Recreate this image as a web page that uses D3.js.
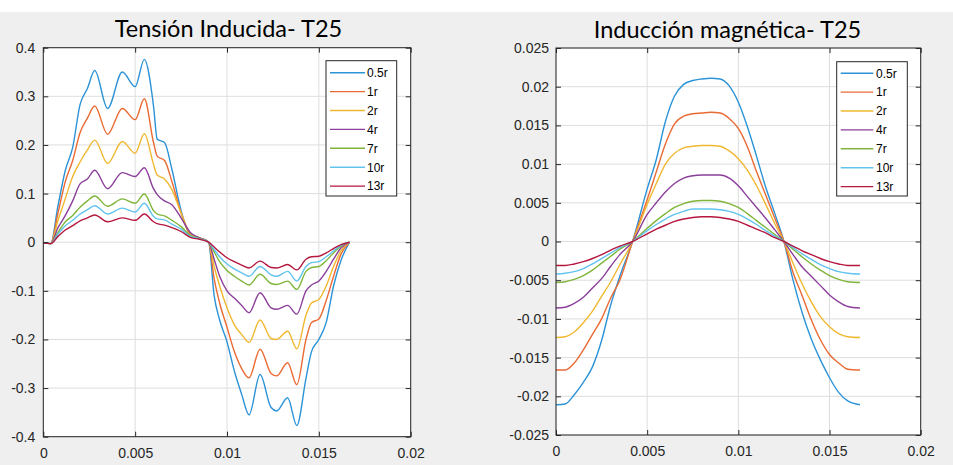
<!DOCTYPE html>
<html><head><meta charset="utf-8">
<script src="https://cdn.jsdelivr.net/npm/d3@7"></script>
<style>
body{margin:0;background:#ffffff;}
svg{display:block;}
.tick text{font-family:"Liberation Sans",Arial,sans-serif;font-size:14px;fill:#262626;}
</style></head><body>
<svg id="c" width="953" height="465"></svg>
<script>
// ---------- data ----------
const seriesNames = ["0.5r","1r","2r","4r","7r","10r","13r"];
const seriesColors = ["#2b93d6","#ea6a33","#f0b830","#8b3f9a","#7fb53a","#62c3ef","#b5173f"];
const xTicks = [0,0.005,0.01,0.015,0.02];
const xTickLabels = ["0","0.005","0.01","0.015","0.02"];
const vTicks = [-0.4,-0.3,-0.2,-0.1,0,0.1,0.2,0.3,0.4];
const vTickLabels = ["-0.4","-0.3","-0.2","-0.1","0","0.1","0.2","0.3","0.4"];
const bTicks = [-0.025,-0.02,-0.015,-0.01,-0.005,0,0.005,0.01,0.015,0.02,0.025];
const bTickLabels = ["-0.025","-0.02","-0.015","-0.01","-0.005","0","0.005","0.01","0.015","0.02","0.025"];

// Tensión inducida (left)
const vTime = [0,0.0004,0.0008,0.0012,0.0016,0.0020,0.0024,0.0028,0.0035,0.0043,0.0050,0.0055,0.0060,0.0062,0.0066,0.0070,0.0075,0.0080,0.0085,0.0090,
  0.0093,0.0096,0.0100,0.0104,0.0108,0.0112,0.0118,0.0124,0.0127,0.0133,0.0138,0.0143,0.0146,0.0150,0.0154,0.0158,0.0162,0.01667];
const v05r = [-0.002,-0.003,0.075,0.148,0.195,0.283,0.316,0.353,0.275,0.35,0.32,0.376,0.28,0.212,0.205,0.15,0.065,0.016,0.009,0,
  -0.11,-0.16,-0.205,-0.265,-0.313,-0.355,-0.272,-0.34,-0.347,-0.32,-0.377,-0.28,-0.225,-0.2,-0.165,-0.09,-0.038,0];
const v1r = [-0.002,-0.003,0.06,0.125,0.168,0.225,0.255,0.28,0.222,0.275,0.252,0.295,0.205,0.177,0.168,0.125,0.06,0.016,0.009,0,
  -0.075,-0.125,-0.175,-0.225,-0.26,-0.279,-0.22,-0.27,-0.275,-0.248,-0.293,-0.2,-0.165,-0.158,-0.12,-0.07,-0.025,0];
const v2r = [-0.002,-0.003,0.045,0.09,0.135,0.165,0.19,0.21,0.162,0.207,0.183,0.223,0.16,0.138,0.13,0.108,0.06,0.018,0.009,0,
  -0.05,-0.09,-0.135,-0.17,-0.19,-0.206,-0.16,-0.198,-0.2,-0.183,-0.219,-0.15,-0.125,-0.118,-0.09,-0.05,-0.018,0];
const v4r = [-0.002,-0.003,0.03,0.055,0.085,0.12,0.13,0.148,0.11,0.143,0.135,0.153,0.11,0.098,0.085,0.077,0.05,0.02,0.009,0,
  -0.035,-0.07,-0.1,-0.115,-0.13,-0.145,-0.104,-0.135,-0.138,-0.13,-0.148,-0.1,-0.088,-0.08,-0.06,-0.035,-0.012,0];
const v7r = [-0.002,-0.003,0.02,0.042,0.055,0.072,0.085,0.095,0.074,0.089,0.08,0.099,0.065,0.058,0.054,0.045,0.032,0.014,0.008,0,
  -0.02,-0.04,-0.058,-0.07,-0.08,-0.088,-0.066,-0.085,-0.087,-0.08,-0.097,-0.06,-0.052,-0.05,-0.038,-0.022,-0.008,0];
const v10r = [-0.002,-0.003,0.017,0.034,0.045,0.058,0.067,0.075,0.058,0.07,0.062,0.08,0.053,0.048,0.046,0.037,0.027,0.012,0.007,0,
  -0.015,-0.03,-0.045,-0.055,-0.063,-0.07,-0.05,-0.067,-0.07,-0.06,-0.08,-0.05,-0.042,-0.04,-0.03,-0.018,-0.006,0];
const v13r = [-0.002,-0.003,0.012,0.025,0.034,0.044,0.05,0.056,0.042,0.05,0.045,0.058,0.042,0.038,0.035,0.03,0.022,0.01,0.006,0,
  -0.01,-0.02,-0.032,-0.04,-0.047,-0.053,-0.039,-0.052,-0.053,-0.046,-0.057,-0.035,-0.03,-0.029,-0.022,-0.013,-0.005,0];

// Inducción magnética (right)
const bTime = [0,0.0005,0.001,0.0015,0.002,0.0025,0.003,0.0035,0.0042,0.005,0.0055,0.006,0.0065,0.007,0.0075,0.008,0.0085,0.009,0.0095,0.01,0.0105,0.011,0.0115,0.012,0.0125,0.013,0.0135,0.014,0.0145,0.015,0.0155,0.016,0.01667];
const b05r = [-0.0211,-0.0210,-0.0198,-0.0182,-0.0162,-0.0128,-0.0082,-0.0045,0,0.0068,0.0106,0.0155,0.0188,0.0203,0.0208,0.0210,0.0211,0.0210,0.0201,0.0180,0.0148,0.0110,0.0070,0.0036,0,-0.0050,-0.0092,-0.0126,-0.0153,-0.0176,-0.0195,-0.0206,-0.0211];
const b1r = [-0.0166,-0.0166,-0.0157,-0.0140,-0.0120,-0.0100,-0.0073,-0.0050,0,0.0054,0.0090,0.0126,0.0152,0.0162,0.0165,0.0166,0.0167,0.0166,0.0159,0.0146,0.0122,0.0090,0.0060,0.0030,0,-0.0040,-0.0070,-0.0101,-0.0127,-0.0146,-0.0157,-0.0165,-0.0166];
const b2r = [-0.0124,-0.0123,-0.0117,-0.0105,-0.0090,-0.0071,-0.0052,-0.0030,0,0.0048,0.0075,0.0100,0.0114,0.0121,0.0123,0.0124,0.0124,0.0123,0.0117,0.0107,0.0092,0.0072,0.0048,0.0023,0,-0.0028,-0.0055,-0.0078,-0.0097,-0.0110,-0.0119,-0.0123,-0.0124];
const b4r = [-0.0086,-0.0085,-0.0080,-0.0072,-0.0060,-0.0048,-0.0032,-0.0017,0,0.0035,0.0050,0.0064,0.0075,0.0082,0.0085,0.0086,0.0086,0.0086,0.0082,0.0072,0.0058,0.0044,0.0030,0.0015,0,-0.0017,-0.0033,-0.0045,-0.0057,-0.0069,-0.0078,-0.0084,-0.0086];
const b7r = [-0.0053,-0.0052,-0.0049,-0.0044,-0.0037,-0.0028,-0.0019,-0.0010,0,0.0017,0.0027,0.0036,0.0044,0.0049,0.0052,0.0053,0.0053,0.0052,0.0049,0.0044,0.0036,0.0027,0.0018,0.0009,0,-0.0010,-0.0020,-0.0029,-0.0037,-0.0044,-0.0049,-0.0052,-0.0053];
const b10r = [-0.0042,-0.0041,-0.0039,-0.0035,-0.0029,-0.0022,-0.0015,-0.0008,0,0.0014,0.0022,0.0029,0.0035,0.0039,0.0042,0.0042,0.0042,0.0041,0.0039,0.0035,0.0029,0.0022,0.0014,0.0007,0,-0.0008,-0.0016,-0.0023,-0.0030,-0.0035,-0.0039,-0.0041,-0.0042];
const b13r = [-0.0031,-0.0031,-0.0029,-0.0026,-0.0022,-0.0017,-0.0011,-0.0006,0,0.0010,0.0016,0.0021,0.0026,0.0029,0.0031,0.0032,0.0032,0.0031,0.0029,0.0026,0.0021,0.0016,0.0011,0.0005,0,-0.0006,-0.0012,-0.0017,-0.0022,-0.0026,-0.0029,-0.0031,-0.0031];

// ---------- drawing ----------
const svg = d3.select("#c");
svg.append("rect").attr("x",0).attr("y",12).attr("width",953).attr("height",453).attr("fill","#efefef");

function panel(cfg){
  const x = d3.scaleLinear().domain([0,0.02]).range([cfg.x0,cfg.x1]);
  const y = d3.scaleLinear().domain(cfg.yDomain).range([cfg.y1,cfg.y0]);
  const g = svg.append("g");
  g.append("rect").attr("x",cfg.x0).attr("y",cfg.y0).attr("width",cfg.x1-cfg.x0).attr("height",cfg.y1-cfg.y0).attr("fill","#fff");
  // grid
  g.append("g").selectAll("line").data(xTicks).join("line")
    .attr("x1",d=>x(d)).attr("x2",d=>x(d)).attr("y1",cfg.y0).attr("y2",cfg.y1)
    .attr("stroke","#dedede").attr("stroke-width",1);
  g.append("g").selectAll("line").data(cfg.yTicks).join("line")
    .attr("y1",d=>y(d)).attr("y2",d=>y(d)).attr("x1",cfg.x0).attr("x2",cfg.x1)
    .attr("stroke","#dedede").attr("stroke-width",1);
  // curves
  const line = d3.line().x(d=>x(d[0])).y(d=>y(d[1])).curve(d3.curveMonotoneX);
  cfg.series.forEach((s,i)=>{
    const pts = cfg.time.map((t,k)=>[t,s[k]]);
    g.append("path").attr("d",line(pts)).attr("fill","none")
      .attr("stroke",seriesColors[i]).attr("stroke-width",1.4);
  });
  // axes
  const fmtX = d=>xTickLabels[xTicks.indexOf(d)];
  const fmtY = d=>cfg.yLabels[cfg.yTicks.indexOf(d)];
  const ax = g.append("g").attr("transform",`translate(0,${cfg.y1})`)
    .call(d3.axisBottom(x).tickValues(xTicks).tickFormat(fmtX).tickSizeInner(-5).tickSizeOuter(0).tickPadding(11));
  const axT = g.append("g").attr("transform",`translate(0,${cfg.y0})`)
    .call(d3.axisTop(x).tickValues(xTicks).tickFormat("").tickSizeInner(-5).tickSizeOuter(0));
  const ay = g.append("g").attr("transform",`translate(${cfg.x0},0)`)
    .call(d3.axisLeft(y).tickValues(cfg.yTicks).tickFormat(fmtY).tickSizeInner(-5).tickSizeOuter(0).tickPadding(cfg.yPad));
  const ayR = g.append("g").attr("transform",`translate(${cfg.x1},0)`)
    .call(d3.axisRight(y).tickValues(cfg.yTicks).tickFormat("").tickSizeInner(-5).tickSizeOuter(0));
  [ax,axT,ay,ayR].forEach(a=>{a.select(".domain").remove(); a.selectAll("line").attr("stroke","#262626");});
  g.append("rect").attr("x",cfg.x0).attr("y",cfg.y0).attr("width",cfg.x1-cfg.x0).attr("height",cfg.y1-cfg.y0)
    .attr("fill","none").attr("stroke","#262626").attr("stroke-width",1);
  // title
  svg.append("text").attr("x",cfg.titleX).attr("y",cfg.titleY).attr("text-anchor","middle")
    .attr("font-family","Lato, 'Open Sans', sans-serif").attr("font-size",cfg.titleSize).attr("fill","#000").text(cfg.title);
  // legend
  const L = cfg.legend;
  const lg = svg.append("g");
  lg.append("rect").attr("x",L.x).attr("y",L.y).attr("width",L.w).attr("height",L.h)
    .attr("fill","#fff").attr("stroke","#262626").attr("stroke-width",1);
  seriesNames.forEach((n,i)=>{
    const yy = L.y + L.first + i*L.step;
    lg.append("line").attr("x1",L.lx0).attr("x2",L.lx1).attr("y1",yy).attr("y2",yy)
      .attr("stroke",seriesColors[i]).attr("stroke-width",1.4);
    lg.append("text").attr("x",L.tx).attr("y",yy).attr("dy","0.36em")
      .attr("font-family","'Liberation Sans',Arial,sans-serif").attr("font-size",12).attr("fill","#000").text(n);
  });
}

panel({x0:43.3,x1:410.7,y0:47.7,y1:436.7,yDomain:[-0.4,0.4],yTicks:vTicks,yLabels:vTickLabels,yPad:8,
  time:vTime,series:[v05r,v1r,v2r,v4r,v7r,v10r,v13r],
  title:"Tensión Inducida- T25",titleX:228.5,titleY:36.5,titleSize:23.5,
  legend:{x:326,y:60.7,w:70.7,h:135.3,first:12,step:18.9,lx0:330,lx1:365,tx:367}});
panel({x0:556,x1:920.7,y0:48,y1:435,yDomain:[-0.025,0.025],yTicks:bTicks,yLabels:bTickLabels,yPad:7,
  time:bTime,series:[b05r,b1r,b2r,b4r,b7r,b10r,b13r],
  title:"Inducción magnética- T25",titleX:727.5,titleY:37.5,titleSize:23.5,
  legend:{x:836.7,y:61.7,w:70.6,h:134.3,first:11.5,step:18.9,lx0:840.7,lx1:873.3,tx:876}});
</script></body></html>
